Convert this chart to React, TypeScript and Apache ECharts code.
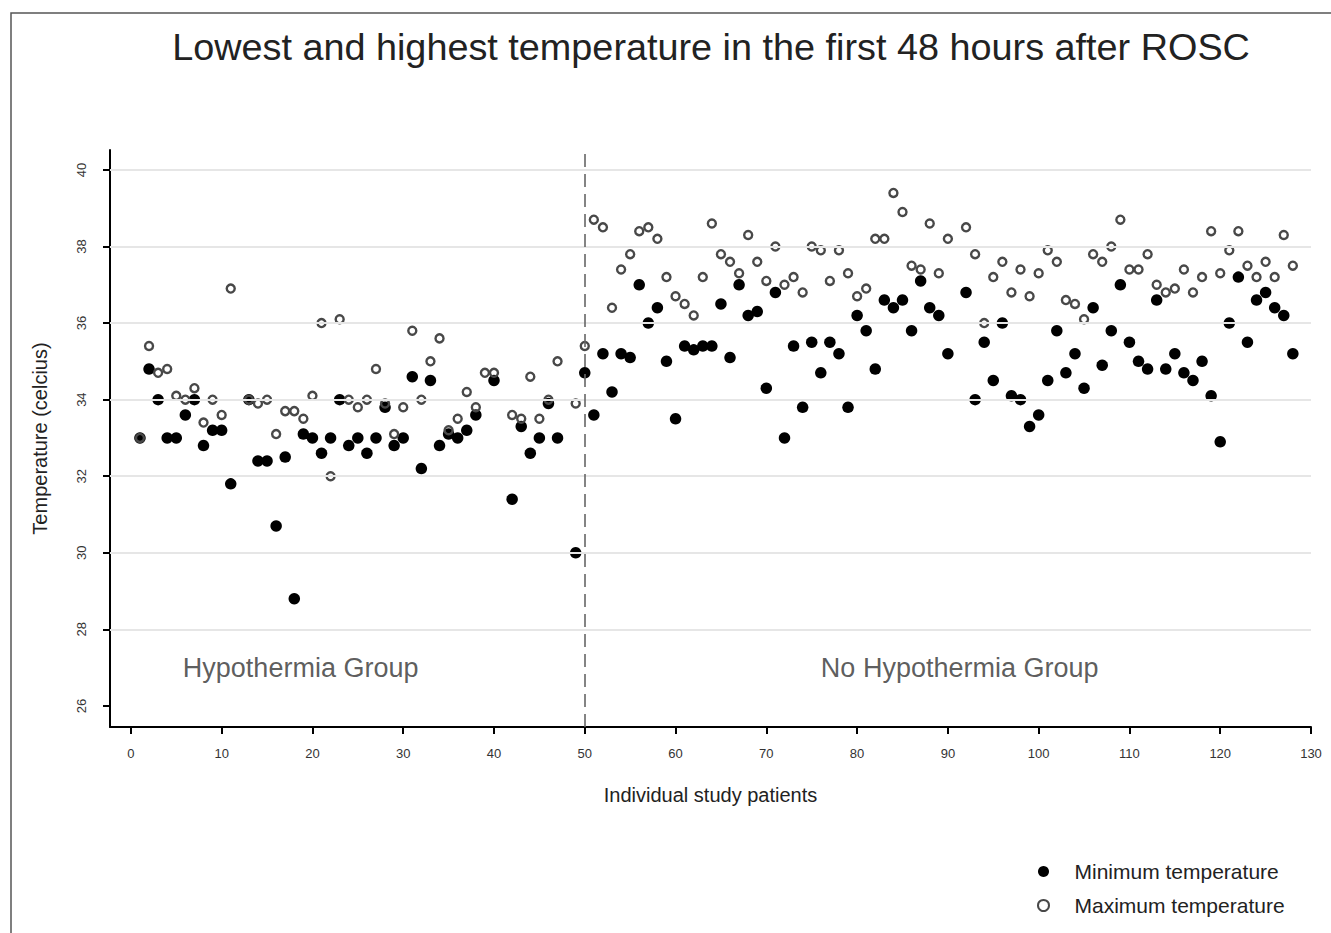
import React, { useEffect, useRef } from "react";
import * as echarts from "echarts";

// Patients 1..128; null = no data recorded
const minTemp: (number | null)[] = [
  33.0, 34.8, 34.0, 33.0, 33.0, 33.6, 34.0, 32.8, 33.2, 33.2,
  31.8, null, 34.0, 32.4, 32.4, 30.7, 32.5, 28.8, 33.1, 33.0,
  32.6, 33.0, 34.0, 32.8, 33.0, 32.6, 33.0, 33.8, 32.8, 33.0,
  34.6, 32.2, 34.5, 32.8, 33.1, 33.0, 33.2, 33.6, null, 34.5,
  null, 31.4, 33.3, 32.6, 33.0, 33.9, 33.0, null, 30.0, 34.7,
  33.6, 35.2, 34.2, 35.2, 35.1, 37.0, 36.0, 36.4, 35.0, 33.5,
  35.4, 35.3, 35.4, 35.4, 36.5, 35.1, 37.0, 36.2, 36.3, 34.3,
  36.8, 33.0, 35.4, 33.8, 35.5, 34.7, 35.5, 35.2, 33.8, 36.2,
  35.8, 34.8, 36.6, 36.4, 36.6, 35.8, 37.1, 36.4, 36.2, 35.2,
  null, 36.8, 34.0, 35.5, 34.5, 36.0, 34.1, 34.0, 33.3, 33.6,
  34.5, 35.8, 34.7, 35.2, 34.3, 36.4, 34.9, 35.8, 37.0, 35.5,
  35.0, 34.8, 36.6, 34.8, 35.2, 34.7, 34.5, 35.0, 34.1, 32.9,
  36.0, 37.2, 35.5, 36.6, 36.8, 36.4, 36.2, 35.2,
];

const maxTemp: (number | null)[] = [
  33.0, 35.4, 34.7, 34.8, 34.1, 34.0, 34.3, 33.4, 34.0, 33.6,
  36.9, null, 34.0, 33.9, 34.0, 33.1, 33.7, 33.7, 33.5, 34.1,
  36.0, 32.0, 36.1, 34.0, 33.8, 34.0, 34.8, 33.9, 33.1, 33.8,
  35.8, 34.0, 35.0, 35.6, 33.2, 33.5, 34.2, 33.8, 34.7, 34.7,
  null, 33.6, 33.5, 34.6, 33.5, 34.0, 35.0, null, 33.9, 35.4,
  38.7, 38.5, 36.4, 37.4, 37.8, 38.4, 38.5, 38.2, 37.2, 36.7,
  36.5, 36.2, 37.2, 38.6, 37.8, 37.6, 37.3, 38.3, 37.6, 37.1,
  38.0, 37.0, 37.2, 36.8, 38.0, 37.9, 37.1, 37.9, 37.3, 36.7,
  36.9, 38.2, 38.2, 39.4, 38.9, 37.5, 37.4, 38.6, 37.3, 38.2,
  null, 38.5, 37.8, 36.0, 37.2, 37.6, 36.8, 37.4, 36.7, 37.3,
  37.9, 37.6, 36.6, 36.5, 36.1, 37.8, 37.6, 38.0, 38.7, 37.4,
  37.4, 37.8, 37.0, 36.8, 36.9, 37.4, 36.8, 37.2, 38.4, 37.3,
  37.9, 38.4, 37.5, 37.2, 37.6, 37.2, 38.3, 37.5,
];

const xTicks = [0, 10, 20, 30, 40, 50, 60, 70, 80, 90, 100, 110, 120, 130];
const yTicks = [26, 28, 30, 32, 34, 36, 38, 40];
const gridValues = [28, 30, 32, 34, 36, 38, 40];
const dividerAt = 50;
const groupLabels = [
  { name: "Hypothermia Group", x: 18.7, y: 27.0 },
  { name: "No Hypothermia Group", x: 91.3, y: 27.0 },
];

const TITLE = "Lowest and highest temperature in the first 48 hours after ROSC";
const FONT = "'Liberation Sans', Arial, Helvetica, sans-serif";
const NARROW = "'Liberation Sans Narrow', 'Liberation Sans', Arial, sans-serif";

const toPairs = (arr: (number | null)[]) =>
  arr
    .map((v, i) => (v === null ? null : [i + 1, v]))
    .filter((p) => p !== null) as number[][];

export default function App() {
  const ref = useRef<HTMLDivElement>(null);

  useEffect(() => {
    if (!ref.current) return;
    const chart = echarts.init(ref.current, undefined, { renderer: "svg" });

    const option: any = {
      animation: false,
      backgroundColor: "#ffffff",
      title: {
        text: TITLE,
        left: 706,
        top: 23,
        textAlign: "center",
        textStyle: { fontSize: 37.8, fontWeight: "normal", color: "#222", fontFamily: FONT },
      },
      graphic: [
        {
          type: "rect",
          shape: { x: 11, y: 13, width: 1340, height: 940 },
          style: { fill: "none", stroke: "#555", lineWidth: 1.5 },
          silent: true,
        },
      ],
      grid: { left: 110, right: 20, top: 150, bottom: 206, containLabel: false },
      xAxis: {
        type: "value",
        min: -2.3,
        max: 130,
        name: "Individual study patients",
        nameLocation: "middle",
        nameGap: 58,
        nameTextStyle: { fontSize: 20, color: "#222", fontFamily: FONT },
        axisLine: { show: true, onZero: false, lineStyle: { color: "#000", width: 2 } },
        axisTick: { show: true, length: 7, customValues: xTicks, lineStyle: { color: "#000", width: 2 } },
        axisLabel: { customValues: xTicks, fontSize: 13, color: "#333", margin: 20, fontFamily: NARROW },
        splitLine: { show: false },
      },
      yAxis: {
        type: "value",
        min: 25.45,
        max: 40.52,
        name: "Temperature (celcius)",
        nameLocation: "middle",
        nameGap: 60,
        nameRotate: 90,
        nameTextStyle: { fontSize: 20, color: "#222", fontFamily: FONT },
        axisLine: { show: true, onZero: false, lineStyle: { color: "#000", width: 2 } },
        axisTick: { show: true, length: 7, customValues: yTicks, lineStyle: { color: "#000", width: 2 } },
        axisLabel: { customValues: yTicks, rotate: 90, fontSize: 13, color: "#333", margin: 22, fontFamily: NARROW },
        splitLine: { show: false },
      },
      legend: {
        data: ["Minimum temperature", "Maximum temperature"],
        orient: "vertical",
        left: 1032,
        top: 856,
        itemWidth: 52,
        itemHeight: 11,
        itemGap: 13,
        symbolKeepAspect: true,
        selectedMode: false,
        textStyle: { fontSize: 21, color: "#222", fontFamily: FONT },
      },
      series: [
        {
          name: "guides",
          type: "line",
          data: [],
          z: 1,
          silent: true,
          markLine: {
            silent: true,
            symbol: "none",
            label: { show: false },
            animation: false,
            data: [
              ...gridValues.map((v) => ({
                yAxis: v,
                lineStyle: { color: "#e6e6e6", width: 2, type: "solid" },
              })),
              {
                xAxis: dividerAt,
                lineStyle: { color: "#666", width: 1.6, type: [13, 7] },
              },
            ],
          },
        },
        {
          name: "Minimum temperature",
          type: "scatter",
          z: 3,
          symbol: "circle",
          symbolSize: 11.5,
          itemStyle: { color: "#000", opacity: 1 },
          data: toPairs(minTemp),
        },
        {
          name: "Maximum temperature",
          type: "scatter",
          z: 4,
          symbol: "circle",
          symbolSize: 8,
          itemStyle: {
            color: "rgba(255,255,255,0)",
            borderColor: "#484848",
            borderWidth: 2.4,
            opacity: 1,
          },
          data: toPairs(maxTemp),
        },
        {
          name: "groups",
          type: "scatter",
          z: 5,
          silent: true,
          symbolSize: 1,
          itemStyle: { color: "rgba(0,0,0,0)" },
          label: {
            show: true,
            position: "inside",
            formatter: "{b}",
            fontSize: 27,
            color: "#333",
            fontFamily: FONT,
          },
          data: groupLabels.map((g) => ({ name: g.name, value: [g.x, g.y] })),
        },
      ],
    };

    chart.setOption(option);
    return () => chart.dispose();
  }, []);

  return (
    <div
      ref={ref}
      style={{ position: "fixed", left: 0, top: 0, width: 1331, height: 933, background: "#fff" }}
    />
  );
}
